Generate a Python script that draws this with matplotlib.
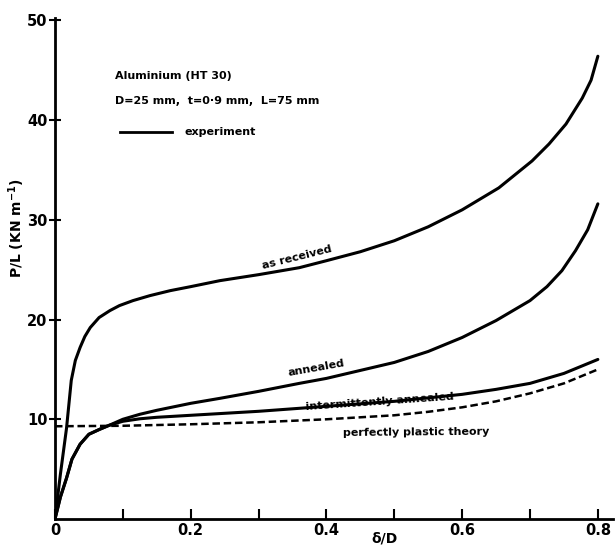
import numpy as np
import matplotlib
matplotlib.use('Agg')
import matplotlib.pyplot as plt
from matplotlib.ticker import MultipleLocator

# values (delta/D, P/L in kN/m)
x_recv = [0, 0.008, 0.017, 0.024, 0.03, 0.037, 0.044, 0.052, 0.065, 0.081, 0.095,
          0.115, 0.14, 0.17, 0.2, 0.243, 0.3, 0.36, 0.4, 0.45, 0.5, 0.55, 0.6,
          0.654, 0.703, 0.728, 0.753, 0.777, 0.79, 0.8]
y_recv = [0, 4.5, 9.1, 13.9, 15.9, 17.2, 18.3, 19.2, 20.2, 20.9, 21.4,
          21.9, 22.4, 22.9, 23.3, 23.9, 24.5, 25.2, 25.9, 26.8, 27.9, 29.3, 31.0,
          33.2, 35.9, 37.6, 39.6, 42.2, 44.0, 46.4]

x_ann = [0, 0.008, 0.017, 0.025, 0.037, 0.05, 0.066, 0.08, 0.1, 0.125, 0.15, 0.2,
         0.243, 0.3, 0.36, 0.4, 0.45, 0.5, 0.55, 0.6, 0.65, 0.7, 0.725, 0.747,
         0.767, 0.785, 0.8]
y_ann = [0, 2.2, 4.1, 6.0, 7.5, 8.5, 9.0, 9.4, 10.0, 10.5, 10.9, 11.6,
         12.1, 12.8, 13.6, 14.1, 14.9, 15.7, 16.8, 18.2, 19.9, 21.9, 23.3, 24.9,
         26.9, 29.0, 31.6]

x_int = [0, 0.008, 0.017, 0.025, 0.037, 0.05, 0.066, 0.08, 0.1, 0.125, 0.15, 0.2,
         0.3, 0.4, 0.5, 0.6, 0.65, 0.7, 0.75, 0.8]
y_int = [0, 2.2, 4.1, 6.0, 7.5, 8.5, 9.0, 9.4, 9.8, 10.05, 10.2, 10.4,
         10.8, 11.3, 11.8, 12.5, 13.0, 13.6, 14.6, 16.0]

x_th = [0, 0.1, 0.2, 0.3, 0.4, 0.5, 0.55, 0.6, 0.65, 0.7, 0.75, 0.8]
y_th = [9.3, 9.35, 9.5, 9.7, 10.0, 10.4, 10.75, 11.2, 11.8, 12.6, 13.6, 15.0]

fig = plt.figure(figsize=(6.15, 5.49), dpi=100)
ax = fig.add_axes([0.0894, 0.0546, 0.907, 0.912])

lw = 2.2
ax.plot(x_recv, y_recv, color='black', lw=lw, solid_capstyle='round', solid_joinstyle='round')
ax.plot(x_ann, y_ann, color='black', lw=lw, solid_capstyle='round', solid_joinstyle='round')
ax.plot(x_int, y_int, color='black', lw=lw, solid_capstyle='round', solid_joinstyle='round')
ax.plot(x_th, y_th, color='black', lw=1.8, ls=(0, (3, 1.5)))

ax.set_xlim(0, 0.822)
ax.set_ylim(0, 50.2)
for s in ['top', 'right']:
    ax.spines[s].set_visible(False)
for s in ['left', 'bottom']:
    ax.spines[s].set_linewidth(2)

ax.set_xticks([0, 0.2, 0.4, 0.6, 0.8])
ax.set_xticklabels(['0', '0.2', '0.4', '0.6', '0.8'])
ax.xaxis.set_minor_locator(MultipleLocator(0.1))
ax.set_yticks([10, 20, 30, 40, 50])
ax.tick_params(axis='x', which='both', direction='in', length=7, width=1.5,
               labelsize=10.5, pad=3)
ax.tick_params(axis='y', direction='inout', length=9, width=1.5, labelsize=10.5, pad=1)
for lab in ax.get_xticklabels() + ax.get_yticklabels():
    lab.set_fontweight('bold')

ax.set_ylabel(r'P/L (KN m$^{\mathbf{-1}}$)', fontsize=10, fontweight='bold')
ax.yaxis.set_label_coords(-0.05, 0.58)
ax.set_xlabel('δ/D', fontsize=10, fontweight='bold')
ax.xaxis.set_label_coords(0.59, -0.024)

tk = dict(fontsize=8, fontweight='bold', color='black')
ax.text(0.088, 44.4, 'Aluminium (HT 30)', va='center', ha='left', **tk)
ax.text(0.088, 41.9, 'D=25 mm,  t=0·9 mm,  L=75 mm', va='center', ha='left', **tk)
ax.plot([0.096, 0.172], [38.8, 38.8], color='black', lw=2)
ax.text(0.191, 38.8, 'experiment', va='center', ha='left', **tk)

ax.text(0.356, 26.2, 'as received', ha='center', va='center', rotation=14, **tk)
ax.text(0.385, 15.1, 'annealed', ha='center', va='center', rotation=10, **tk)
ax.text(0.478, 11.7, 'intermittently annealed', ha='center', va='center', rotation=4, **tk)
ax.text(0.532, 8.7, 'perfectly plastic theory', ha='center', va='center', rotation=0.5, **tk)

fig.savefig('out.png', dpi=100)
